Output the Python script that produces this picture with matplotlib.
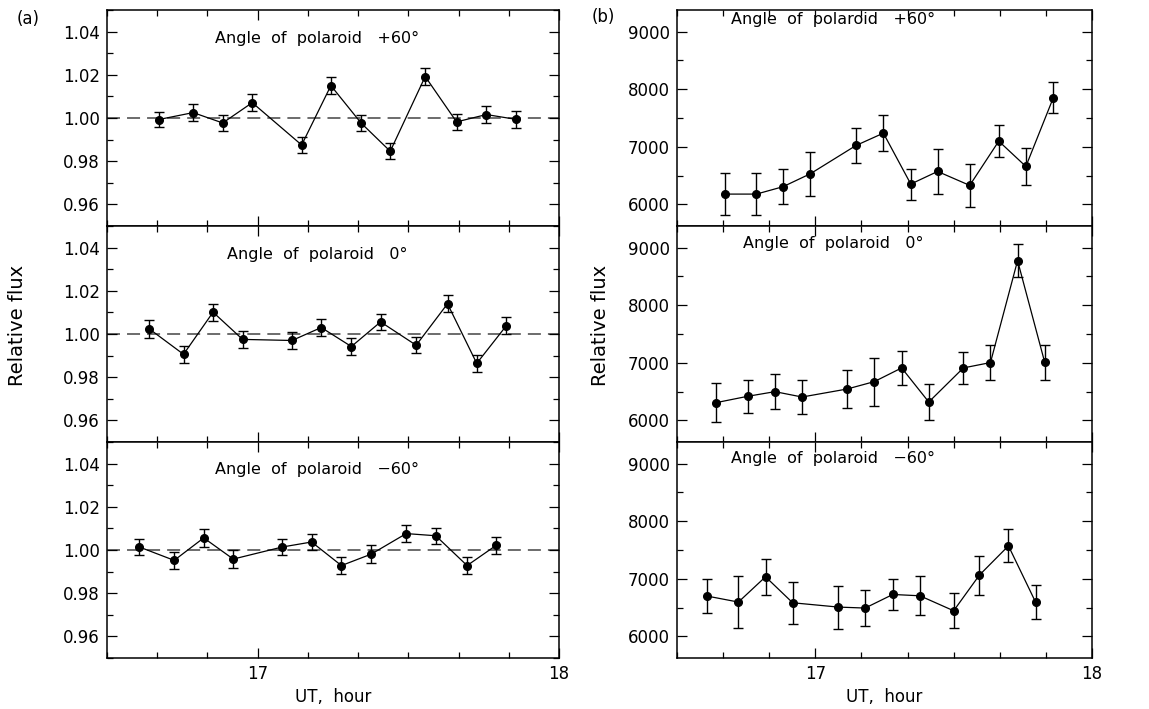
import numpy as np
import matplotlib
matplotlib.use("Agg")
import matplotlib.pyplot as plt
from matplotlib.ticker import MultipleLocator, FixedLocator

# ---- data ----
# (a) relative flux, normalised
t_a_p60 = [16.672, 16.786, 16.884, 16.982, 17.146, 17.243, 17.343, 17.440, 17.556, 17.660, 17.759, 17.856]
f_a_p60 = [0.9993, 1.0025, 0.9977, 1.0071, 0.9875, 1.0150, 0.9977, 0.9846, 1.0192, 0.9982, 1.0016, 0.9994]
e_a_p60 = [0.0036, 0.0039, 0.0038, 0.0040, 0.0037, 0.0038, 0.0038, 0.0038, 0.0038, 0.0038, 0.0040, 0.0039]

t_a_0 = [16.640, 16.754, 16.852, 16.950, 17.114, 17.211, 17.311, 17.408, 17.526, 17.630, 17.727, 17.825]
f_a_0 = [1.0024, 0.9906, 1.0101, 0.9975, 0.9970, 1.0030, 0.9942, 1.0056, 0.9948, 1.0140, 0.9864, 1.0038]
e_a_0 = [0.0041, 0.0038, 0.0040, 0.0038, 0.0041, 0.0038, 0.0039, 0.0037, 0.0037, 0.0039, 0.0040, 0.0040]

t_a_m60 = [16.607, 16.723, 16.821, 16.919, 17.082, 17.179, 17.278, 17.377, 17.493, 17.591, 17.695, 17.792]
f_a_m60 = [1.0014, 0.9952, 1.0056, 0.9958, 1.0014, 1.0037, 0.9928, 0.9981, 1.0076, 1.0066, 0.9928, 1.0022]
e_a_m60 = [0.0038, 0.0038, 0.0040, 0.0040, 0.0038, 0.0038, 0.0038, 0.0041, 0.0039, 0.0038, 0.0040, 0.0039]

# (b) relative flux, counts
t_b_p60 = [16.672, 16.787, 16.883, 16.982, 17.147, 17.246, 17.345, 17.442, 17.558, 17.663, 17.761, 17.860]
f_b_p60 = [6179, 6179, 6307, 6532, 7023, 7237, 6353, 6572, 6330, 7098, 6659, 7850]
e_b_p60 = [367, 362, 300, 384, 312, 312, 269, 396, 373, 275, 324, 269]

t_b_0 = [16.640, 16.755, 16.854, 16.952, 17.115, 17.213, 17.312, 17.410, 17.535, 17.633, 17.731, 17.829]
f_b_0 = [6307, 6418, 6499, 6406, 6545, 6673, 6911, 6319, 6911, 7004, 8774, 7010]
e_b_0 = [334, 290, 299, 302, 325, 418, 299, 316, 278, 310, 290, 305]

t_b_m60 = [16.609, 16.722, 16.820, 16.918, 17.083, 17.180, 17.280, 17.378, 17.500, 17.593, 17.698, 17.796]
f_b_m60 = [6700, 6596, 7035, 6584, 6509, 6492, 6728, 6705, 6445, 7064, 7572, 6596]
e_b_m60 = [300, 445, 312, 364, 373, 306, 277, 341, 306, 338, 286, 295]

titles = ["Angle  of  polaroid   +60\u00b0",
          "Angle  of  polaroid   0\u00b0",
          "Angle  of  polaroid   \u221260\u00b0"]
yticks_a = [0.96, 0.98, 1.00, 1.02, 1.04]
ytick_labels_a = ["0.96", "0.98", "1.00", "1.02", "1.04"]
yticks_b = [6000, 7000, 8000, 9000]
ytick_labels_b = ["6000", "7000", "8000", "9000"]
xticks = [17, 18]
xtick_labels = ["17", "18"]

plt.rcParams['font.family'] = ['DejaVu Sans']
plt.rcParams['mathtext.default'] = 'regular'

W, H = 1149, 709
fig = plt.figure(figsize=(W / 100, H / 100), dpi=100)

def fx(px):
    return px / W

def fy(py):
    return 1 - py / H

top, bot = 10, 658
ph = (bot - top) / 3.0

left_a, right_a = 107, 559
left_b, right_b = 677, 1092

data_a = [(t_a_p60, f_a_p60, e_a_p60), (t_a_0, f_a_0, e_a_0), (t_a_m60, f_a_m60, e_a_m60)]
data_b = [(t_b_p60, f_b_p60, e_b_p60), (t_b_0, f_b_0, e_b_0), (t_b_m60, f_b_m60, e_b_m60)]

title_pos_a = [0.87, 0.87, 0.875]
title_pos_b = [0.955, 0.917, 0.925]
title_x_a = 0.465
title_x_b = 0.377

eb_kw = dict(fmt='-o', color='black', lw=0.9, ms=5.5, elinewidth=1.0,
             capsize=3.8, capthick=1.0, zorder=3)


def style(ax, last):
    ax.set_xlim(16.5, 18.0)
    ax.xaxis.set_major_locator(FixedLocator(xticks))
    ax.xaxis.set_minor_locator(MultipleLocator(1 / 6))
    if last:
        ax.set_xticklabels(xtick_labels)
    else:
        ax.set_xticklabels([])
    ax.tick_params(which='both', direction='in', top=True, right=True,
                   labelsize=12, width=0.9, color='black', pad=5)
    ax.tick_params(which='major', length=7)
    ax.tick_params(which='minor', length=4)
    for s in ax.spines.values():
        s.set_linewidth(1.1)


for i in range(3):
    y0 = top + i * ph
    # (a)
    ax = fig.add_axes([fx(left_a), fy(y0 + ph), fx(right_a - left_a), ph / H])
    t, f, e = data_a[i]
    ax.axhline(1.0, color='#606060', lw=1.3, dashes=(7.2, 3.9), zorder=1)
    ax.errorbar(t, f, yerr=e, **eb_kw)
    ax.set_ylim(0.95, 1.05)
    ax.yaxis.set_major_locator(FixedLocator(yticks_a))
    ax.set_yticklabels(ytick_labels_a)
    ax.yaxis.set_minor_locator(MultipleLocator(0.01))
    style(ax, i == 2)
    ax.text(title_x_a, title_pos_a[i], titles[i], transform=ax.transAxes,
            ha='center', va='center', fontsize=11.5)
    if i == 2:
        ax.set_xlabel("UT,  hour", fontsize=12, labelpad=4)

    # (b)
    ax = fig.add_axes([fx(left_b), fy(y0 + ph), fx(right_b - left_b), ph / H])
    t, f, e = data_b[i]
    ax.errorbar(t, f, yerr=e, **eb_kw)
    ax.set_ylim(5625, 9375)
    ax.yaxis.set_major_locator(FixedLocator(yticks_b))
    ax.set_yticklabels(ytick_labels_b)
    ax.yaxis.set_minor_locator(MultipleLocator(500))
    style(ax, i == 2)
    ax.text(title_x_b, title_pos_b[i], titles[i], transform=ax.transAxes,
            ha='center', va='center', fontsize=11.5)
    if i == 2:
        ax.set_xlabel("UT,  hour", fontsize=12, labelpad=4)

fig.text(fx(18), fy(325), "Relative flux", rotation=90, ha='center', va='center', fontsize=14)
fig.text(fx(600), fy(325), "Relative flux", rotation=90, ha='center', va='center', fontsize=14)
fig.text(fx(28), fy(19), "(a)", ha='center', va='center', fontsize=12)
fig.text(fx(603), fy(17), "(b)", ha='center', va='center', fontsize=12)

fig.savefig("out.png", dpi=100)
